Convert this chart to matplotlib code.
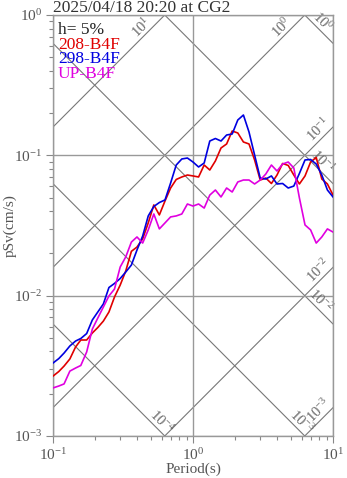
import numpy as np
import matplotlib

matplotlib.use("Agg")
import matplotlib.pyplot as plt

plt.rcParams["font.family"] = ["Liberation Serif", "DejaVu Serif"]
plt.rcParams["mathtext.fontset"] = "custom"
plt.rcParams["mathtext.rm"] = "Liberation Serif"

TITLE = "2025/04/18 20:20 at CG2"
DAMPING_LABEL = "h= 5%"

# periods (s) shared by the three components
PERIODS = [0.100, 0.110, 0.120, 0.132, 0.145, 0.158, 0.174, 0.191, 0.209, 0.229,
           0.251, 0.275, 0.302, 0.331, 0.363, 0.398, 0.437, 0.479, 0.525, 0.575,
           0.631, 0.692, 0.759, 0.832, 0.912, 1.000, 1.096, 1.202, 1.318, 1.445,
           1.585, 1.738, 1.905, 2.089, 2.291, 2.512, 2.754, 3.020, 3.311, 3.631,
           3.981, 4.365, 4.786, 5.248, 5.754, 6.310, 6.918, 7.586, 8.318, 9.120, 10.00]

# pseudo velocity response (cm/s)
SV_208 = [0.00267, 0.00288, 0.00315, 0.00354, 0.00431, 0.00483, 0.00483, 0.00542, 0.00593, 0.00659,
          0.00765, 0.00978, 0.0119, 0.0150, 0.0207, 0.0222, 0.0254, 0.0330, 0.0443, 0.0376,
          0.0473, 0.0585, 0.0673, 0.0701, 0.0724, 0.0713, 0.0701, 0.0853, 0.0786, 0.0912,
          0.1128, 0.1205, 0.1490, 0.1443, 0.1245, 0.1205, 0.0927, 0.0667, 0.0689, 0.0630,
          0.0724, 0.0875, 0.0847, 0.0724, 0.0625, 0.0713, 0.0896, 0.0966, 0.0678, 0.0625, 0.0521]
SV_298 = [0.00331, 0.00356, 0.00390, 0.00438, 0.00475, 0.00495, 0.00537, 0.00671, 0.00765, 0.00873,
          0.01143, 0.01222, 0.01325, 0.01475, 0.01653, 0.02115, 0.02661, 0.0370, 0.0432, 0.0461,
          0.0481, 0.0635, 0.0853, 0.0942, 0.0957, 0.0896, 0.0826, 0.0882, 0.1265, 0.1318,
          0.1265, 0.1396, 0.1419, 0.1786, 0.1938, 0.1466, 0.1005, 0.0689, 0.0678, 0.0713,
          0.0625, 0.0630, 0.0585, 0.0604, 0.0743, 0.0927, 0.0934, 0.0867, 0.0724, 0.0566, 0.0505]
SV_UP = [0.00220, 0.00227, 0.00235, 0.00290, 0.00305, 0.00318, 0.00397, 0.00578, 0.00693, 0.00830,
         0.00995, 0.01115, 0.0160, 0.0189, 0.0241, 0.0262, 0.0237, 0.0294, 0.0382, 0.0299,
         0.0330, 0.0364, 0.0370, 0.0382, 0.0450, 0.0435, 0.0450, 0.0421, 0.0521, 0.0566,
         0.0505, 0.0585, 0.0548, 0.0646, 0.0667, 0.0667, 0.0625, 0.0667, 0.0736, 0.0853,
         0.0773, 0.0867, 0.0896, 0.0813, 0.0497, 0.0319, 0.0294, 0.0237, 0.0262, 0.0299, 0.0284]

COMPONENTS = ["208-B4F", "298-B4F", "UP-B4F"]
COLORS = ["#e00000", "#0000e0", "#e000e0"]

# tripartite guide lines: acceleration (cm/s^2) and displacement (cm)
ACC_LEVELS = [1e-3, 1e-2, 1e-1, 1e0, 1e1]
ACC_LABEL_T = [8.7, 8.7, 8.7, 4.7, 0.47]
DISP_LEVELS = [1e-4, 1e-3, 1e-2, 1e-1, 1e0]
DISP_LABEL_T = [0.545, 5.45, 7.45, 7.7, 7.7]


def draw_tripartite(ax):
    t = np.array([0.1, 10.0])
    for acc, t_lab in zip(ACC_LEVELS, ACC_LABEL_T):
        ax.plot(t, acc * t / (2 * np.pi), color="#777777", lw=0.8, zorder=1)
        ax.text(t_lab, acc * t_lab / (2 * np.pi), f"$\\mathdefault{{10^{{{int(np.log10(acc))}}}}}$",
                rotation=45, rotation_mode="anchor", ha="center", va="bottom",
                color="#666666", fontsize=10.5, zorder=2)
    for disp, t_lab in zip(DISP_LEVELS, DISP_LABEL_T):
        ax.plot(t, 2 * np.pi * disp / t, color="#777777", lw=0.8, zorder=1)
        ax.text(t_lab, 2 * np.pi * disp / t_lab, f"$\\mathdefault{{10^{{{int(np.log10(disp))}}}}}$",
                rotation=-45, rotation_mode="anchor", ha="center", va="bottom",
                color="#666666", fontsize=10.5, zorder=2)


def main():
    fig = plt.figure(figsize=(3.47, 4.78), dpi=100)
    ax = fig.add_axes([0.1527, 0.0879, 0.807, 0.8807])
    ax.set_xscale("log")
    ax.set_yscale("log")
    ax.set_xlim(0.1, 10)
    ax.set_ylim(1e-3, 1)

    ax.grid(which="major", color="#999999", lw=1.0, zorder=0)
    draw_tripartite(ax)

    for name, values, color in zip(COMPONENTS, [SV_208, SV_298, SV_UP], COLORS):
        ax.plot(PERIODS, values, color=color, lw=1.2, zorder=3, label=name)

    for side in ["left", "bottom", "top", "right"]:
        ax.spines[side].set_color("#999999")
        ax.spines[side].set_linewidth(1.0)
    ax.tick_params(which="major", direction="out", length=5, width=0.8, color="#888888",
                   labelcolor="#555555", labelsize=11, pad=3)
    ax.tick_params(which="minor", direction="out", length=3, width=0.8, color="#888888")
    ax.set_xlabel("Period(s)", color="#555555", fontsize=11, labelpad=0)
    ax.set_ylabel("pSv(cm/s)", color="#555555", fontsize=11)
    ax.yaxis.set_label_coords(-0.128, 0.5)

    ax.text(0.018, 0.964, DAMPING_LABEL, transform=ax.transAxes, color="#222222",
            fontsize=12.5, va="center", ha="left", zorder=4)
    for i, (name, color) in enumerate(zip(COMPONENTS, COLORS)):
        ax.text(0.018, 0.929 - 0.0345 * i, name, transform=ax.transAxes, color=color,
                fontsize=12.5, va="center", ha="left", zorder=4)

    fig.text(0.1527, 1 - 11.5 / 478, TITLE, color="#333333", fontsize=12.5,
             ha="left", va="baseline")

    fig.savefig("out.png", dpi=100)
    plt.close(fig)


if __name__ == "__main__":
    main()
